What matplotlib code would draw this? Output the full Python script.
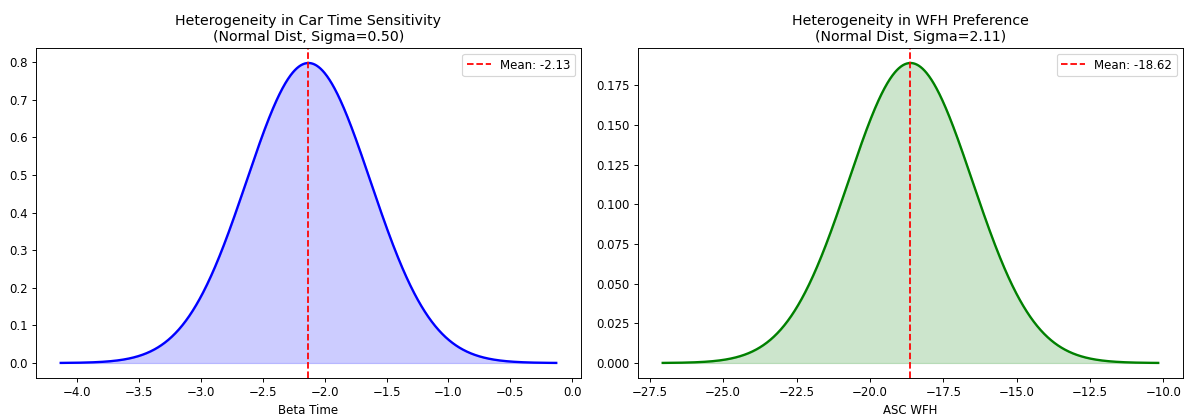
import numpy as np
import matplotlib.pyplot as plt

# distribution parameters
time_mean = -2.13
time_sigma = 0.50
wfh_mean = -18.62
wfh_sigma = 2.11

panels = [
    ("Heterogeneity in Car Time Sensitivity", "Beta Time", time_mean, time_sigma, "blue"),
    ("Heterogeneity in WFH Preference", "ASC WFH", wfh_mean, wfh_sigma, "green"),
]


def normal_pdf(x, mu, sd):
    return np.exp(-0.5 * ((x - mu) / sd) ** 2) / (sd * np.sqrt(2 * np.pi))


fig, axes = plt.subplots(1, 2, figsize=(1187 / 85, 417 / 85), dpi=85)

for ax, (title, xlabel, mu, sd, col) in zip(axes, panels):
    x = np.linspace(mu - 4 * sd, mu + 4 * sd, 1000)
    y = normal_pdf(x, mu, sd)
    ax.plot(x, y, color=col, lw=2)
    ax.fill_between(x, y, color=col, alpha=0.2)
    ax.axvline(mu, color='red', ls='--', label=f"Mean: {mu:.2f}")
    ax.set_title(f"{title}\n(Normal Dist, Sigma={sd:.2f})")
    ax.set_xlabel(xlabel)
    ax.legend(loc='upper right')

fig.subplots_adjust(left=0.0303, right=0.9966, top=0.8849, bottom=0.0935, wspace=0.1045)
plt.savefig("out.png")
